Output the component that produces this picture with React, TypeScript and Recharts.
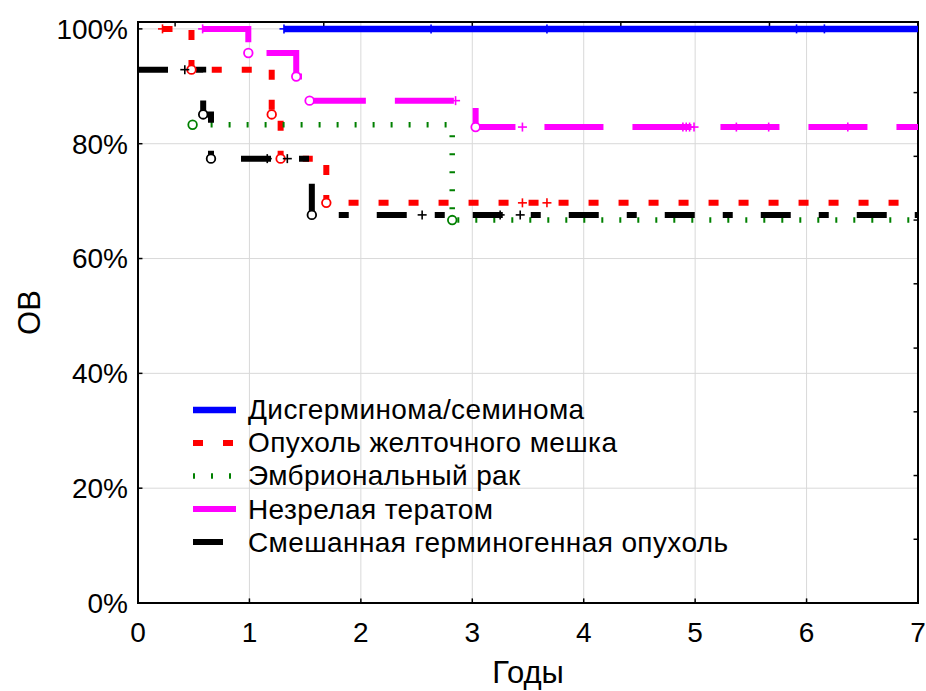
import React from 'react'
import {
  LineChart,
  Line,
  XAxis,
  YAxis,
  CartesianGrid,
  ReferenceArea,
  ReferenceLine,
} from 'recharts'

const FONT = '"Liberation Sans", Arial, sans-serif'

// время (годы), выживаемость (%), отметка: 'o' - событие, '+' - цензурирован
const seminomaTime = [1.31, 2.63, 3.67, 5.91, 6.16, 7]
const seminomaSurv = [100, 100, 100, 100, 100, 100]
const seminomaMark = ['+', '+', '+', '+', '+', '']

const yolkTime = [0.22, 0.48, 1.2, 1.28, 1.69, 3.45, 3.67, 7]
const yolkSurv = [100, 92.9, 85.1, 77.4, 69.7, 69.7, 69.7, 69.7]
const yolkMark = ['+', 'o', 'o', 'o', 'o', '+', '+', '']

const embryoTime = [0.49, 2.82, 7]
const embryoSurv = [83.3, 66.7, 66.7]
const embryoMark = ['o', 'o', '']

const teratomaTime = [0.58, 0.99, 1.42, 1.54, 2.85, 3.03, 3.45, 4.89, 4.92, 4.95, 4.99, 5.37, 5.66, 6.37, 7]
const teratomaSurv = [100, 95.8, 91.7, 87.5, 87.5, 82.9, 82.9, 82.9, 82.9, 82.9, 82.9, 82.9, 82.9, 82.9, 82.9]
const teratomaMark = ['+', 'o', 'o', 'o', '+', 'o', '+', '+', '+', '+', '+', '+', '+', '+', '']

const mixedTime = [0, 0.42, 0.585, 0.655, 1.16, 1.34, 1.56, 2.55, 3.25, 3.43, 7]
const mixedSurv = [92.9, 92.9, 85.1, 77.4, 77.4, 77.4, 67.6, 67.6, 67.6, 67.6, 67.6]
const mixedMark = ['', '+', 'o', 'o', '+', '+', 'o', '+', '+', '+', '']

const xTicks = [0, 1, 2, 3, 4, 5, 6, 7]
const yTicks = [0, 20, 40, 60, 80, 100]
const topTicks = [0.333, 1.667, 3, 4.333, 5.667]
const rightTicks = [11.1, 22.2, 33.3, 44.4, 55.6, 66.7, 77.8, 88.9]

const build = (t: number[], s: number[], m: string[]) =>
  t.map((v, i) => ({ t: v, surv: s[i], mark: m[i] }))

const series = [
  { name: 'Дисгерминома/семинома', color: '#0000ff', width: 6.5, dash: undefined, data: build(seminomaTime, seminomaSurv, seminomaMark) },
  { name: 'Опухоль желточного мешка', color: '#ff0000', width: 6, dash: '10 20', data: build(yolkTime, yolkSurv, yolkMark) },
  { name: 'Эмбриональный рак', color: '#008000', width: 5.5, dash: '2 16', data: build(embryoTime, embryoSurv, embryoMark) },
  { name: 'Незрелая тератом', color: '#ff00ff', width: 6, dash: '59 29', data: build(teratomaTime, teratomaSurv, teratomaMark) },
  { name: 'Смешанная герминогенная опухоль', color: '#000000', width: 6, dash: '30 28 10 28', data: build(mixedTime, mixedSurv, mixedMark) },
]

const renderMark = (color: string) => (props: any) => {
  const { cx, cy, payload, index } = props
  if (cx == null || cy == null) return <g key={index} />
  if (payload.mark === 'o') {
    return <circle key={index} cx={cx} cy={cy} r={4.3} fill="#fff" stroke={color} strokeWidth={1.8} strokeDasharray="none" />
  }
  if (payload.mark === '+') {
    return (
      <g key={index} stroke={color} strokeWidth={1.6} strokeDasharray="none">
        <line x1={cx - 4.5} y1={cy} x2={cx + 4.5} y2={cy} />
        <line x1={cx} y1={cy - 4.5} x2={cx} y2={cy + 4.5} />
      </g>
    )
  }
  return <g key={index} />
}

const Legend: React.FC = () => (
  <div style={{ position: 'absolute', left: 190, top: 393, fontFamily: FONT, fontSize: 28, letterSpacing: 0.4 }}>
    {series.map((s) => (
      <div key={s.name} style={{ display: 'flex', alignItems: 'center', height: 33.2 }}>
        <svg width={58} height={10}>
          <line x1={3} y1={5} x2={46} y2={5} stroke={s.color} strokeWidth={s.width} strokeDasharray={s.dash} />
        </svg>
        <span style={{ whiteSpace: 'nowrap', lineHeight: '33px' }}>{s.name}</span>
      </div>
    ))}
  </div>
)

const App: React.FC = () => {
  return (
    <div style={{ position: 'absolute', left: 0, top: 0, width: 926, height: 691, background: '#fff' }}>
      <LineChart width={926} height={691} margin={{ top: 22, right: 8, left: 0, bottom: 0 }}>
        <CartesianGrid stroke="#d9d9d9" strokeWidth={1} />
        <XAxis
          dataKey="t"
          type="number"
          domain={[0, 7]}
          ticks={xTicks}
          allowDataOverflow
          height={88}
          axisLine={false}
          tickLine={false}
          tickSize={0}
          tickMargin={19}
          tick={{ fontSize: 28, fill: '#000', fontFamily: FONT }}
          label={{
            content: (p: any) => (
              <text
                x={p.viewBox.x + p.viewBox.width / 2}
                y={p.viewBox.y + 80}
                textAnchor="middle"
                fontSize={31}
                fontFamily={FONT}
                fill="#000"
              >
                Годы
              </text>
            ),
          }}
        />
        <YAxis
          type="number"
          domain={[0, 101.2]}
          ticks={yTicks}
          allowDataOverflow
          width={138}
          axisLine={false}
          tickLine={false}
          tickSize={0}
          tickMargin={10}
          tickFormatter={(v) => `${v}%`}
          tick={{ fontSize: 28, fill: '#000', fontFamily: FONT }}
          label={{
            content: (p: any) => {
              const x = p.viewBox.x + 29
              const y = p.viewBox.y + p.viewBox.height / 2
              return (
                <text
                  x={x}
                  y={y}
                  transform={`rotate(-90 ${x} ${y})`}
                  textAnchor="middle"
                  dominantBaseline="central"
                  fontSize={31}
                  fontFamily={FONT}
                  fill="#000"
                >
                  ОВ
                </text>
              )
            },
          }}
        />

        {xTicks.slice(1, -1).map((t) => (
          <ReferenceLine key={'b' + t} segment={[{ x: t, y: 0 }, { x: t, y: 0.8 }]} stroke="#000" strokeWidth={1.5} ifOverflow="visible" />
        ))}
        {topTicks.map((t) => (
          <ReferenceLine key={'t' + t} segment={[{ x: t, y: 101.2 }, { x: t, y: 100.4 }]} stroke="#000" strokeWidth={1.5} ifOverflow="visible" />
        ))}
        {yTicks.slice(1).map((v) => (
          <ReferenceLine key={'l' + v} segment={[{ x: 0, y: v }, { x: 0.04, y: v }]} stroke="#000" strokeWidth={1.5} ifOverflow="visible" />
        ))}
        {rightTicks.map((v) => (
          <ReferenceLine key={'r' + v} segment={[{ x: 6.96, y: v }, { x: 7, y: v }]} stroke="#000" strokeWidth={1.5} ifOverflow="visible" />
        ))}

        {series.map((s) => (
          <Line
            key={s.name}
            data={s.data}
            dataKey="surv"
            name={s.name}
            type="stepAfter"
            stroke={s.color}
            strokeWidth={s.width}
            strokeDasharray={s.dash}
            strokeLinecap="butt"
            dot={renderMark(s.color)}
            activeDot={false}
            isAnimationActive={false}
          />
        ))}

        <ReferenceArea x1={0} x2={7} y1={0} y2={101.2} fill="none" stroke="#000" strokeWidth={2} ifOverflow="visible" />
      </LineChart>
      <Legend />
    </div>
  )
}

export default App
